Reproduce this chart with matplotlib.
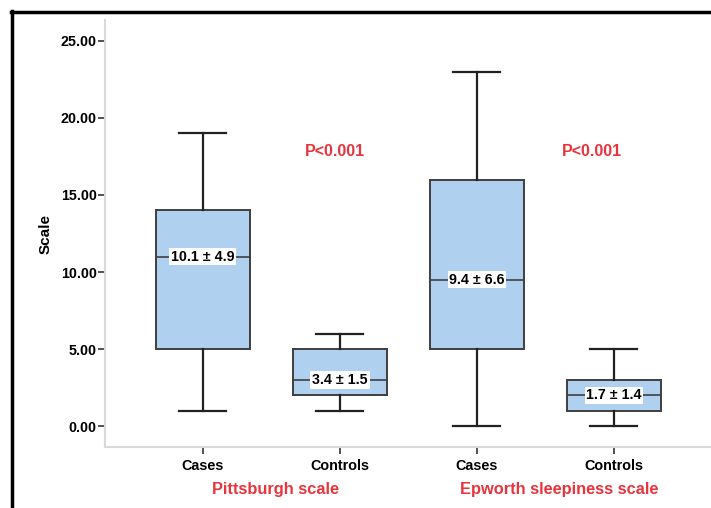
import matplotlib
matplotlib.use('Agg')
import matplotlib.pyplot as plt
from matplotlib.lines import Line2D

plt.rcParams['font.family'] = ['Liberation Sans', 'DejaVu Sans']

# data
groups = ['Cases', 'Controls', 'Cases', 'Controls']
whislo = [1, 1, 0, 0]
q1 = [5, 2, 5, 1]
med = [11, 3, 9.5, 2]
q3 = [14, 5, 16, 3]
whishi = [19, 6, 23, 5]
mean_sd = ['10.1 \u00b1 4.9', '3.4 \u00b1 1.5', '9.4 \u00b1 6.6', '1.7 \u00b1 1.4']
scales = ['Pittsburgh scale', 'Epworth sleepiness scale']
pvals = ['P<0.001', 'P<0.001']
yticks = [0, 5, 10, 15, 20, 25]

red = '#E8353D'
edge = '#3f3f3f'

fig = plt.figure(figsize=(7.11, 5.08), dpi=100)
ax = fig.add_axes([105/711, 1-447/508, 1-105/711, (447-20)/508])

stats = []
for i in range(len(groups)):
    stats.append({'whislo': whislo[i], 'q1': q1[i], 'med': med[i],
                  'q3': q3[i], 'whishi': whishi[i], 'fliers': []})

pos = [1, 2, 3, 4]
ax.bxp(stats, positions=pos, widths=0.686, capwidths=0.343, patch_artist=True,
       boxprops=dict(facecolor='#AFD0EE', edgecolor=edge, linewidth=1.4),
       whiskerprops=dict(color='#222222', linewidth=1.6),
       capprops=dict(color='#222222', linewidth=1.6),
       medianprops=dict(color=edge, linewidth=1.2),
       showfliers=False)

for p, m, s in zip(pos, med, mean_sd):
    ax.text(p, m, s, ha='center', va='center', fontsize=10.3, fontweight='bold',
            color='black', bbox=dict(facecolor='white', edgecolor='none', pad=1.2))

ax.text(1.96, 17.8, pvals[0], ha='center', va='center', color=red,
        fontsize=11.5, fontweight='bold')
ax.text(3.84, 17.8, pvals[1], ha='center', va='center', color=red,
        fontsize=11.5, fontweight='bold')

ax.text(1.526, -4.15, scales[0], ha='center', va='center', color=red,
        fontsize=11.8, fontweight='bold', clip_on=False)
ax.text(3.60, -4.15, scales[1], ha='center', va='center', color=red,
        fontsize=11.8, fontweight='bold', clip_on=False)

ax.set_xlim(0.285, 4.708)
ax.set_ylim(-1.36, 26.36)
ax.set_xticks(pos)
ax.set_xticklabels(groups, fontsize=10.4, fontweight='bold')
ax.set_yticks(yticks)
ax.set_yticklabels(['%.2f' % v for v in yticks], fontsize=10.3, fontweight='bold')
ax.set_ylabel('Scale', fontsize=11, fontweight='bold')
ax.yaxis.set_label_coords(-0.087, 0.5)

for s in ['top', 'right']:
    ax.spines[s].set_visible(False)
for s in ['left', 'bottom']:
    ax.spines[s].set_color('#d9d9d9')
    ax.spines[s].set_linewidth(1.5)
ax.tick_params(axis='both', colors='#333333', length=5, width=1.2, labelcolor='black')
ax.tick_params(axis='x', pad=4)
ax.tick_params(axis='y', pad=1)

# black frame at top and left of the figure
fig.add_artist(Line2D([11/711, 1], [1-12/508, 1-12/508], color='black', linewidth=2.5))
fig.add_artist(Line2D([12/711, 12/711], [0, 1-11/508], color='black', linewidth=2.5))

fig.savefig('out.png', dpi=100)
